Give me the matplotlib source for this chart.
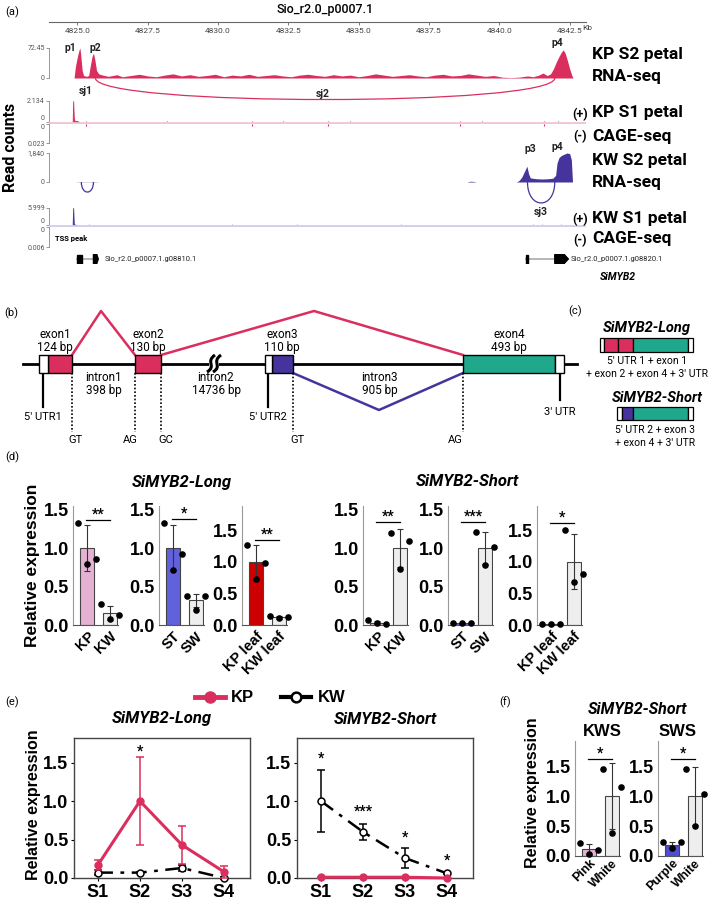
import matplotlib
matplotlib.use('Agg')
import matplotlib.pyplot as plt
from matplotlib.patches import Rectangle, PathPatch, Polygon
from matplotlib.path import Path
from matplotlib.lines import Line2D

W, H = 709, 899
plt.rcParams['font.family'] = ['Roboto', 'DejaVu Sans']
ARIAL = ['Liberation Sans', 'DejaVu Sans']

PINK = '#DA2F5E'
PURPLE = '#46339B'
TEAL = '#1FA88B'
KP_COL = '#E6B2D4'
ST_COL = '#6161DC'
LEAF_COL = '#CC0000'
WHITE_COL = '#EEEEEE'

# --- (a) genome browser data ---
RULER_KB = [4825.0, 4827.5, 4830.0, 4832.5, 4835.0, 4837.5, 4840.0, 4842.5]
KB_LIM = (4823.99, 4843.08)

kp_rna = [(4824.88, 0), (4824.93, 28), (4825.0, 52), (4825.06, 68), (4825.09, 72.45),
          (4825.13, 48), (4825.17, 18), (4825.22, 6), (4825.32, 4), (4825.40, 6),
          (4825.46, 30), (4825.52, 52), (4825.57, 60), (4825.62, 44), (4825.68, 18),
          (4825.76, 10), (4825.9, 7), (4826.1, 4), (4826.4, 8), (4826.6, 3), (4826.9, 6),
          (4827.2, 9), (4827.5, 5), (4827.8, 3), (4828.1, 7), (4828.4, 10), (4828.7, 5),
          (4829.0, 8), (4829.3, 4), (4829.6, 6), (4829.9, 9), (4830.2, 3), (4830.5, 7),
          (4830.8, 5), (4831.1, 9), (4831.4, 4), (4831.7, 6), (4832.0, 8), (4832.3, 5),
          (4832.6, 3), (4832.9, 7), (4833.2, 9), (4833.5, 6), (4833.8, 4), (4834.1, 8),
          (4834.4, 5), (4834.7, 7), (4835.0, 3), (4835.3, 6), (4835.6, 10), (4835.9, 7),
          (4836.2, 4), (4836.5, 6), (4836.8, 8), (4837.1, 5), (4837.4, 3), (4837.7, 7),
          (4838.0, 9), (4838.3, 5), (4838.6, 6), (4838.9, 10), (4839.2, 7), (4839.5, 4),
          (4839.8, 6), (4840.1, 2), (4840.4, 1), (4840.7, 2), (4841.0, 5), (4841.2, 3),
          (4841.4, 7), (4841.55, 12), (4841.7, 6), (4841.82, 10), (4841.92, 22),
          (4842.02, 38), (4842.12, 52), (4842.2, 62), (4842.27, 68), (4842.34, 60),
          (4842.42, 42), (4842.5, 22), (4842.58, 6), (4842.62, 0)]

kw_rna = [(4824.95, 0), (4825.0, 12), (4825.7, 12), (4825.75, 0), (4838.85, 0),
          (4838.92, 35), (4839.0, 50), (4839.1, 30), (4839.18, 0), (4840.6, 0),
          (4840.7, 90), (4840.8, 320), (4840.9, 700), (4840.98, 1000), (4841.04, 520),
          (4841.1, 260), (4841.3, 210), (4841.5, 190), (4841.7, 200), (4841.9, 240),
          (4842.0, 420), (4842.05, 1200), (4842.12, 1550), (4842.2, 1680), (4842.3, 1760),
          (4842.4, 1840), (4842.5, 1800), (4842.56, 1400), (4842.6, 0)]

kp_cage_plus = [(4824.83, 0), (4824.85, 2.134), (4824.87, 0.5), (4824.9, 0.12),
                (4825.0, 0.1), (4825.05, 0)]
kp_cage_marks = [4825.3, 4828.2, 4831.2, 4832.3, 4833.9, 4834.7, 4838.6, 4839.4, 4841.6, 4842.1]
kw_cage_plus = [(4824.83, 0), (4824.85, 5.999), (4824.87, 0.6), (4824.9, 0.1), (4825.0, 0)]
kw_cage_marks = [4825.4, 4830.5, 4832.8, 4836.5, 4841.2, 4841.5, 4842.2]

# splice junction arcs (start kb, end kb, depth in track units)
kp_junctions = [(4825.64, 4841.97, 52)]
kw_junctions = [(4825.14, 4825.57, 640), (4841.0, 4841.97, 1330)]

# gene models
gene_left = {'blocks': [(4825.0, 4825.17), (4825.57, 4825.74)], 'line': (4825.0, 4825.74)}
gene_right = {'blocks': [(4840.93, 4841.03), (4841.97, 4842.45)], 'line': (4840.93, 4842.45)}

# --- (b)/(c) structure data ---
EXON_NAMES = ['exon1', 'exon2', 'exon3', 'exon4']
EXON_BP = [124, 130, 110, 493]
INTRON_NAMES = ['intron1', 'intron2', 'intron3']
INTRON_BP = [398, 14736, 905]
SITE_NAMES = ['GT', 'AG', 'GC', 'GT', 'AG']

# --- (d) qPCR data ---
D_LABELS = [['KP', 'KW'], ['ST', 'SW'], ['KP leaf', 'KW leaf'],
            ['KP', 'KW'], ['ST', 'SW'], ['KP leaf', 'KW leaf']]
D_MEANS = [[1.0, 0.16], [1.0, 0.32], [1.0, 0.12], [0.03, 1.0], [0.02, 1.0], [0.01, 1.0]]
D_SD = [[0.3, 0.09], [0.3, 0.08], [0.26, 0.02], [0.02, 0.25], [0.01, 0.21], [0.005, 0.43]]
D_POINTS = [[[1.33, 0.80, 0.86], [0.27, 0.08, 0.13]],
            [[1.33, 0.72, 0.93], [0.38, 0.20, 0.38]],
            [[1.27, 0.73, 0.98], [0.14, 0.11, 0.13]],
            [[0.06, 0.02, 0.01], [1.20, 0.73, 1.10]],
            [[0.03, 0.03, 0.03], [1.21, 0.78, 1.02]],
            [[0.01, 0.01, 0.01], [1.50, 0.68, 0.80]]]
D_STARS = ['**', '*', '**', '**', '***', '*']
D_STAR_Y = [1.37, 1.38, 1.34, 1.34, 1.34, 1.61]
D_COLORS = [[KP_COL, WHITE_COL], [ST_COL, WHITE_COL], [LEAF_COL, WHITE_COL],
            [KP_COL, WHITE_COL], [ST_COL, WHITE_COL], [LEAF_COL, WHITE_COL]]
D_YMAX = [1.55, 1.55, 1.88, 1.55, 1.55, 1.88]

# --- (e) time course ---
STAGES = ['S1', 'S2', 'S3', 'S4']
LONG_KP = [0.17, 1.0, 0.43, 0.08]
LONG_KP_SD = [0.06, 0.57, 0.25, 0.08]
LONG_KW = [0.07, 0.07, 0.13, 0.0]
LONG_KW_SD = [0.03, 0.01, 0.04, 0.01]
SHORT_KP = [0.01, 0.01, 0.01, 0.0]
SHORT_KP_SD = [0.005, 0.005, 0.005, 0.0]
SHORT_KW = [1.0, 0.6, 0.26, 0.06]
SHORT_KW_SD = [0.4, 0.1, 0.13, 0.01]
LONG_STARS = [(2, 1.64, '*')]
SHORT_STARS = [(1, 1.55, '*'), (2, 0.86, '***'), (3, 0.52, '*'), (4, 0.22, '*')]

# --- (f) ---
F_TITLES = ['KWS', 'SWS']
F_LABELS = [['Pink', 'White'], ['Purple', 'White']]
F_MEANS = [[0.11, 1.0], [0.19, 1.0]]
F_SD = [[0.09, 0.55], [0.05, 0.48]]
F_POINTS = [[[0.22, 0.03, 0.10], [1.45, 0.38, 1.15]],
            [[0.23, 0.13, 0.23], [1.45, 0.50, 1.03]]]
F_COLORS = [[KP_COL, WHITE_COL], ['#4D4DD6', WHITE_COL]]

fig = plt.figure(figsize=(W / 100, H / 100), dpi=100)


def add_ax(x0, y0, x1, y1):
    return fig.add_axes([x0 / W, 1 - y1 / H, (x1 - x0) / W, (y1 - y0) / H])


def txt(x, y, s, **kw):
    kw.setdefault('ha', 'center')
    kw.setdefault('va', 'center')
    fig.text(x / W, 1 - y / H, s, **kw)


# ================= (a) =================
txt(12, 12, '(a)', fontsize=8)
txt(325, 10, 'Sio_r2.0_p0007.1', fontsize=9, fontweight='medium')

rax = add_ax(49, 12, 586, 22)
rax.set_xlim(KB_LIM)
for s in ['left', 'right', 'top']:
    rax.spines[s].set_visible(False)
rax.spines['bottom'].set_color('#666666')
rax.spines['bottom'].set_linewidth(0.8)
rax.set_yticks([])
rax.set_xticks(RULER_KB)
rax.set_xticklabels([f'{v:.1f}' for v in RULER_KB])
rax.tick_params(axis='x', length=2.5, width=0.6, color='#666666', labelsize=6,
                labelcolor='#444444', pad=1.5)
txt(582, 28, 'Kb', fontsize=6, color='#444444', ha='left')


def track(y0, y1, vmax, labels, invert=False, zero_va='center'):
    ax = add_ax(49, y0, 586, y1)
    ax.set_xlim(KB_LIM)
    if invert:
        ax.set_ylim(vmax, 0)
    else:
        ax.set_ylim(0, vmax)
    for s in ['right', 'top', 'bottom']:
        ax.spines[s].set_visible(False)
    ax.spines['left'].set_color('#888888')
    ax.spines['left'].set_linewidth(0.6)
    ax.set_xticks([])
    ax.set_yticks([0, vmax])
    ax.set_yticklabels(labels)
    ax.tick_params(axis='y', length=2, width=0.6, color='#888888', labelsize=5,
                   labelcolor='#555555', pad=1)
    ax.get_yticklabels()[0].set_va(zero_va)
    ax.patch.set_alpha(0)
    return ax


def arc(ax, x0, x1, depth, color, lw=1.0):
    d = depth * 4 / 3
    p = Path([(x0, 0), (x0, -d), (x1, -d), (x1, 0)],
             [Path.MOVETO, Path.CURVE4, Path.CURVE4, Path.CURVE4])
    ax.add_patch(PathPatch(p, fc='none', ec=color, lw=lw, clip_on=False))


# KP S2 RNA-seq
t1 = track(48, 78, 72.45, ['0', '72.45'])
kb, cov = zip(*kp_rna)
t1.fill_between(kb, 0, cov, color=PINK, lw=0)
t1.axhline(0, color=PINK, lw=0.6, alpha=0.6)
for a, b, d in kp_junctions:
    arc(t1, a, b, d, PINK, lw=0.9)

# KP S1 CAGE
t2p = track(101, 122, 2.134, ['0', '2.134'], zero_va='bottom')
kb, cov = zip(*kp_cage_plus)
t2p.fill_between(kb, 0, cov, color=PINK, lw=0.6, edgecolor=PINK)
t2p.vlines(kp_cage_marks, 0, 0.12, color=PINK, lw=0.8)
t2m = track(124, 143, 0.023, ['0', '0.023'], invert=True, zero_va='top')
t2m.vlines(kp_cage_marks[::2], 0, 0.002, color=PINK, lw=0.8)
bl = add_ax(49, 122, 586, 124)
bl.set_xlim(KB_LIM)
bl.axis('off')
bl.axhline(0.5, color='#F2C4D1', lw=2)

# KW S2 RNA-seq
t3 = track(153, 182, 1840, ['0', '1,840'])
kb, cov = zip(*kw_rna)
t3.fill_between(kb, 0, cov, color=PURPLE, lw=0)
t3.axhline(0, color=PURPLE, lw=0.6, alpha=0.5)
for a, b, d in kw_junctions:
    arc(t3, a, b, d, PURPLE, lw=0.9)

# KW S1 CAGE
t4p = track(208, 225, 5.999, ['0', '5.999'], zero_va='bottom')
kb, cov = zip(*kw_cage_plus)
t4p.fill_between(kb, 0, cov, color=PURPLE, lw=0.6, edgecolor=PURPLE)
t4p.vlines(kw_cage_marks, 0, 0.3, color=PURPLE, lw=0.6, alpha=0.6)
t4m = track(227, 247, 0.006, ['0', '0.006'], invert=True, zero_va='top')
bl2 = add_ax(49, 225, 586, 227)
bl2.set_xlim(KB_LIM)
bl2.axis('off')
bl2.axhline(0.5, color='#D3CFE8', lw=2)

# gene models
gax = add_ax(49, 254, 586, 264)
gax.set_xlim(KB_LIM)
gax.set_ylim(-1, 1)
gax.axis('off')
for g in (gene_left, gene_right):
    gax.plot(g['line'], [0, 0], color='#AAAAAA', lw=1.2, zorder=1)
    (a0, a1), (b0, b1) = g['blocks']
    gax.add_patch(Rectangle((a0, -0.9), a1 - a0, 1.8, color='black', zorder=2))
    tip = (b1 - b0) * 0.3
    gax.add_patch(Polygon([(b0, -0.9), (b1 - tip, -0.9), (b1, 0), (b1 - tip, 0.9), (b0, 0.9)],
                          closed=True, color='black', zorder=2))

txt(105, 259, 'Sio_r2.0_p0007.1.g08810.1', fontsize=5.5, ha='left', color='#222222')
txt(571, 259, 'Sio_r2.0_p0007.1.g08820.1', fontsize=5.5, ha='left', color='#222222')
txt(618, 277, 'SiMYB2', fontsize=7.5, fontweight='bold', style='italic')

# peak/junction labels
for x, y, s in [(70, 48, 'p1'), (95, 48, 'p2'), (557, 43, 'p4'), (86, 91, 'sj1'),
                (323, 94, 'sj2'), (530, 149, 'p3'), (557, 147, 'p4'), (541, 212, 'sj3')]:
    txt(x, y, s, fontsize=7.5, fontweight='bold', color='#222222')
txt(55, 238, 'TSS peak', fontsize=5.5, fontweight='bold', ha='left')
txt(11, 147, 'Read counts', fontsize=11.5, fontweight='bold', rotation=90)

# right labels
for y, s in [(54, 'KP S2 petal'), (76, 'RNA-seq'), (113, 'KP S1 petal'), (136, 'CAGE-seq'),
             (160, 'KW S2 petal'), (183, 'RNA-seq'), (218, 'KW S1 petal'), (239, 'CAGE-seq')]:
    txt(592, y, s, fontsize=12.5, fontweight='bold', ha='left')
for y, s in [(115, '(+)'), (137, '(-)'), (220, '(+)'), (241, '(-)')]:
    txt(580, y, s, fontsize=9, fontweight='bold')

# ================= (b) & (c) =================
bax = add_ax(0, 295, 709, 452)
bax.set_xlim(0, 709)
bax.set_ylim(452, 295)
bax.axis('off')

exon_x = [(48, 72), (135, 161), (272, 293), (463, 555)]
exon_cols = [PINK, PINK, PURPLE, TEAL]
exon_lab_x = [55, 148, 282, 509]
utr_x = [(39, 48), (265, 272), (555, 564)]
intron_lab_x = [104, 216, 380]
site_x = [72, 135, 161, 293, 463]
site_lab_x = [75, 130, 166, 297, 455]
BY0, BY1, LY = 355, 373, 364

bax.plot([23, 577], [LY, LY], color='black', lw=2, zorder=1)
# splice paths
bax.plot([72, 101, 135], [BY0, 311, BY0], color=PINK, lw=1.8, zorder=1)
bax.plot([161, 314, 463], [BY0, 311, BY0], color=PINK, lw=1.8, zorder=1)
bax.plot([293, 379, 463], [BY1, 410, BY1], color=PURPLE, lw=1.8, zorder=1)

for (a, b), c in zip(exon_x, exon_cols):
    bax.add_patch(Rectangle((a, BY0), b - a, BY1 - BY0, fc=c, ec='black', lw=1, zorder=3))
for a, b in utr_x:
    bax.add_patch(Rectangle((a, BY0), b - a, BY1 - BY0, fc='white', ec='black', lw=1, zorder=3))
for name, bp, x in zip(EXON_NAMES, EXON_BP, exon_lab_x):
    bax.text(x, 341, f'{name}\n{bp} bp', ha='center', va='center', fontsize=8.5, linespacing=1.05)
for name, bp, x in zip(INTRON_NAMES, INTRON_BP, intron_lab_x):
    bax.text(x, 384, f'{name}\n{bp} bp', ha='center', va='center', fontsize=8.5, linespacing=1.05)

# intron2 break mark
bax.add_patch(Rectangle((209, 360), 10, 8, fc='white', ec='none', zorder=2))
for dx in (-3, 3):
    x = 214 + dx
    p = Path([(x - 4, 372), (x + 6, 366), (x - 6, 362), (x + 4, 355)],
             [Path.MOVETO, Path.CURVE4, Path.CURVE4, Path.CURVE4])
    bax.add_patch(PathPatch(p, fc='none', ec='black', lw=2.2, zorder=4))

# UTR stems
for x, y_end, lab, ly in [(43, 407, "5\u2032 UTR1", 417), (268, 407, "5\u2032 UTR2", 417),
                          (560, 400, "3\u2032 UTR", 412)]:
    bax.plot([x, x], [BY1, y_end], color='black', lw=1.6)
    bax.text(x, ly, lab, ha='center', va='center', fontsize=8)
for x, name, lx in zip(site_x, SITE_NAMES, site_lab_x):
    bax.plot([x, x], [BY1, 432], color='black', lw=1.2, ls=(0, (1, 1.2)))
    bax.text(lx, 440, name, ha='center', va='center', fontsize=8)

bax.text(11, 313, '(b)', ha='center', va='center', fontsize=8)
bax.text(575, 311, '(c)', ha='center', va='center', fontsize=8)

# (c) isoforms
bax.text(647, 328, 'SiMYB2-Long', ha='center', va='center', fontsize=10.5,
         fontweight='bold', style='italic')
for a, b, c in [(600, 604, 'white'), (604, 618, PINK), (618, 633, PINK), (633, 688, TEAL),
                (688, 693, 'white')]:
    bax.add_patch(Rectangle((a, 338), b - a, 14, fc=c, ec='black', lw=0.9))
bax.text(647, 361, "5\u2032 UTR 1 + exon 1", ha='center', va='center', fontsize=7.5)
bax.text(647, 374, "+ exon 2 + exon 4 + 3\u2032 UTR", ha='center', va='center', fontsize=7.5)
bax.text(657, 398, 'SiMYB2-Short', ha='center', va='center', fontsize=10.5,
         fontweight='bold', style='italic')
for a, b, c in [(617, 622, 'white'), (622, 633, PURPLE), (633, 688, TEAL), (688, 693, 'white')]:
    bax.add_patch(Rectangle((a, 407), b - a, 13, fc=c, ec='black', lw=0.9))
txt(655, 430, "5\u2032 UTR 2 + exon 3", fontsize=7.5)
txt(655, 443, "+ exon 4 + 3\u2032 UTR", fontsize=7.5)


# ================= (d) =================
def style_ticks(ax, ysize, xsize):
    for lb in ax.get_yticklabels():
        lb.set_fontfamily(ARIAL)
        lb.set_fontweight('bold')
        lb.set_fontsize(ysize)
    for lb in ax.get_xticklabels():
        lb.set_fontfamily(ARIAL)
        lb.set_fontweight('bold')
        lb.set_fontsize(xsize)


def bar_panel(ax, labels, means, sd, pts, colors, star, star_y, ymax):
    xs = [0, 1]
    ax.bar(xs, means, width=0.62, color=colors, edgecolor='#444444', lw=0.8, zorder=2)
    ax.errorbar(xs, means, yerr=sd, fmt='none', ecolor='#333333', elinewidth=0.8,
                capsize=2.5, capthick=0.8, zorder=3)
    for x, p in zip(xs, pts):
        ax.scatter([x - 0.4, x, x + 0.4], p, s=14, color='black', zorder=4, clip_on=False)
    ax.plot([-0.05, 1.0], [star_y, star_y], color='black', lw=0.9)
    ax.annotate(star, (0.48, star_y), xytext=(0, 4), textcoords='offset points',
                ha='center', va='center', fontsize=10, fontweight='bold')
    ax.set_xlim(-0.63, 1.37)
    ax.set_ylim(0, ymax)
    ax.set_yticks([0, 0.5, 1.0, 1.5])
    ax.set_yticklabels(['0.0', '0.5', '1.0', '1.5'])
    ax.set_xticks(xs)
    ax.set_xticklabels(labels, rotation=45, ha='right', rotation_mode='anchor')
    for s in ['top', 'right']:
        ax.spines[s].set_visible(False)
    ax.spines['left'].set_color('#999999')
    ax.spines['bottom'].set_color('#555555')
    ax.spines['left'].set_linewidth(0.8)
    ax.spines['bottom'].set_linewidth(0.8)
    ax.tick_params(axis='both', length=0, pad=3)
    ax.patch.set_alpha(0)


txt(12, 457, '(d)', fontsize=8)
d_ax_x = [73, 159, 242, 363, 448, 537]
for i, x0 in enumerate(d_ax_x):
    ax = add_ax(x0, 506, x0 + 45, 625)
    bar_panel(ax, D_LABELS[i], D_MEANS[i], D_SD[i], D_POINTS[i], D_COLORS[i],
              D_STARS[i], D_STAR_Y[i], D_YMAX[i])
    style_ticks(ax, 13, 10.5)
txt(182, 482, 'SiMYB2-Long', fontsize=12, fontweight='bold', style='italic')
txt(467, 482, 'SiMYB2-Short', fontsize=12, fontweight='bold', style='italic')
txt(33, 565, 'Relative expression', fontsize=12.5, fontweight='bold', rotation=90, family=ARIAL)

# ================= (e) =================
txt(12, 702, '(e)', fontsize=8)
txt(162, 719, 'SiMYB2-Long', fontsize=12, fontweight='bold', style='italic')
txt(385, 719, 'SiMYB2-Short', fontsize=12, fontweight='bold', style='italic')
txt(34, 805, 'Relative expression', fontsize=11.5, fontweight='bold', rotation=90, family=ARIAL)

xs = [1, 2, 3, 4]
for x0, kp, kp_sd, kw, kw_sd, stars in [(74, LONG_KP, LONG_KP_SD, LONG_KW, LONG_KW_SD, LONG_STARS),
                                         (297, SHORT_KP, SHORT_KP_SD, SHORT_KW, SHORT_KW_SD, SHORT_STARS)]:
    ax = add_ax(x0, 738, x0 + 176, 878)
    ax.errorbar(xs, kw, yerr=kw_sd, color='black', lw=1.8, ls=(0, (6, 3, 1.5, 3)),
                marker='o', ms=5, mfc='white', mec='black', mew=1.1, capsize=3,
                elinewidth=1.1, capthick=1.1, zorder=3, clip_on=False)
    ax.errorbar(xs, kp, yerr=kp_sd, color=PINK, lw=2.2, marker='o', ms=5, mfc=PINK,
                mec=PINK, capsize=3, elinewidth=1.1, capthick=1.1, zorder=4, clip_on=False)
    for sx, sy, s in stars:
        ax.text(sx, sy, s, ha='center', va='center', fontsize=10, fontweight='bold')
    ax.set_xlim(0.43, 4.62)
    ax.set_ylim(0, 1.82)
    ax.set_xticks(xs)
    ax.set_xticklabels(STAGES)
    ax.set_yticks([0, 0.5, 1.0, 1.5])
    ax.set_yticklabels(['0.0', '0.5', '1.0', '1.5'])
    for s in ax.spines.values():
        s.set_color('#444444')
        s.set_linewidth(1)
    ax.tick_params(axis='both', length=2, width=0.8, pad=2)
    style_ticks(ax, 13, 13)

handles = [Line2D([], [], color=PINK, lw=3.5, marker='o', ms=8, mfc=PINK, mec=PINK),
           Line2D([], [], color='black', lw=3, marker='o', ms=7, mfc='white', mec='black', mew=1.8)]
fig.legend(handles, ['KP', 'KW'], loc='center', bbox_to_anchor=(270 / W, 1 - 698 / H), ncol=2,
           frameon=False, handlelength=1.8, columnspacing=1.6, handletextpad=0.4,
           prop={'weight': 'bold', 'size': 12, 'family': ARIAL})

# ================= (f) =================
txt(505, 702, '(f)', fontsize=8)
txt(637, 709, 'SiMYB2-Short', fontsize=11.5, fontweight='bold', style='italic')
txt(533, 793, 'Relative expression', fontsize=11.5, fontweight='bold', rotation=90, family=ARIAL)
f_ax_x = [575, 658]
f_title_x = [602, 678]
for i, x0 in enumerate(f_ax_x):
    ax = add_ax(x0, 741, x0 + 45, 856)
    bar_panel(ax, F_LABELS[i], F_MEANS[i], F_SD[i], F_POINTS[i], F_COLORS[i],
              '*', 1.62, 1.92)
    style_ticks(ax, 13, 9)
    ax.tick_params(axis='x', pad=1)
    txt(f_title_x[i], 731, F_TITLES[i], fontsize=12, fontweight='bold', family=ARIAL)

fig.savefig('out.png', dpi=100)
